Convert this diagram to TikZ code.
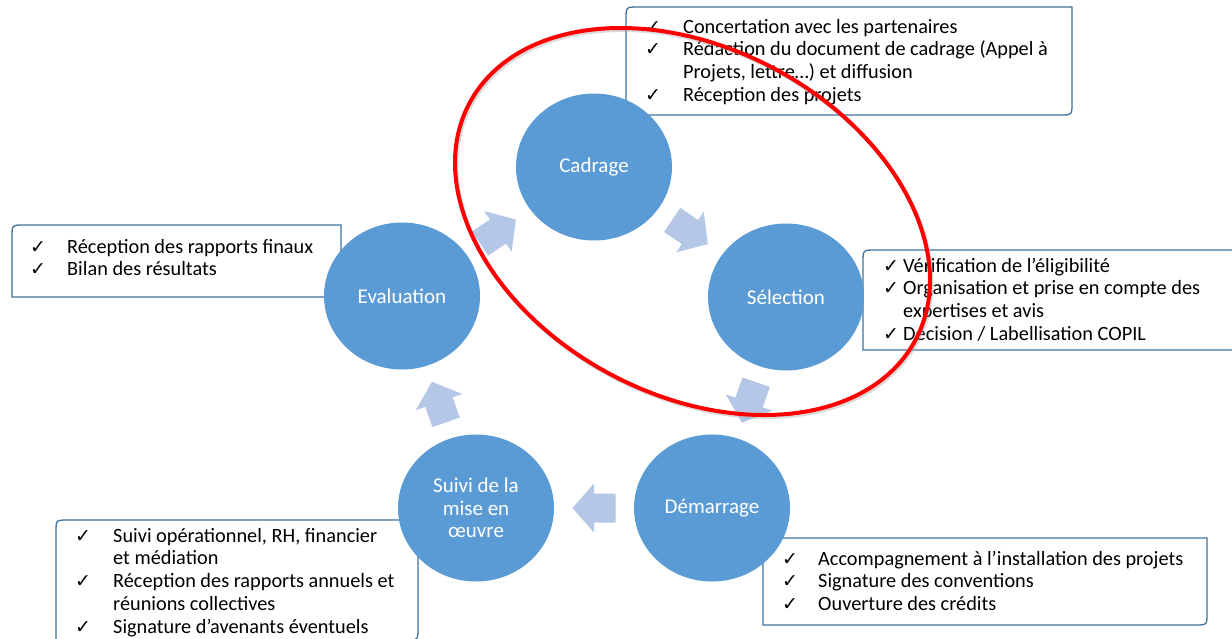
\documentclass[tikz,border=0pt]{standalone}
\usepackage{fontspec}
\setmainfont{Carlito}
\newfontfamily\ckfont{DejaVu Sans}
\usetikzlibrary{calc,shapes.geometric}
\definecolor{circfill}{HTML}{5B9BD5}
\definecolor{arrfill}{HTML}{B4C7E7}
\definecolor{boxline}{HTML}{41719C}
\newcommand{\ck}{{\ckfont\fontsize{19}{19}\selectfont ✓}}
\tikzset{
  boxst/.style={draw=boxline, line width=1.3pt, fill=white},
  listtext/.style={inner sep=0pt, anchor=base west, font=\fontsize{20.3}{22.8}\selectfont},
  circ/.style={ellipse, fill=circfill, minimum width=156pt, minimum height=147pt, inner sep=0pt,
               text=white, align=center, font=\fontsize{21}{22.5}\selectfont},
  pics/blockarrow/.style={code={\fill[arrfill] (-21.5,-14.5) -- (0,-14.5) -- (0,-24.5) -- (21.5,0)
        -- (0,24.5) -- (0,14.5) -- (-21.5,14.5) -- cycle;}}
}
\begin{document}
\begin{tikzpicture}[x=1pt,y=-1pt]
\useasboundingbox[fill=white] (0,0) rectangle (1232,638);
% boxes
\draw[boxst] (626,115) -- (626,19) .. controls (626,7) .. (638,7) -- (1072,7) -- (1072,103) .. controls (1072,115) .. (1060,115) -- cycle;
\draw[boxst] (863,350) -- (863,262) .. controls (863,250) .. (875,250) -- (1240,250) -- (1240,350) -- cycle;
\draw[boxst] (12,297) -- (12,237) .. controls (12,225) .. (24,225) -- (341,225) -- (341,297) -- cycle;
\draw[boxst] (56,650) -- (56,532) .. controls (56,520) .. (68,520) -- (418,520) -- (418,628) .. controls (418,640) .. (406,640) -- (56,640);
\draw[boxst] (763,625) -- (763,550) .. controls (763,538) .. (775,538) -- (1207,538) -- (1207,613) .. controls (1207,625) .. (1195,625) -- cycle;
% box texts
\node[listtext] (tcad) at (645,33) {\begin{tabular}[t]{@{}p{38pt}@{}l@{}}
\ck & Concertation avec les partenaires\\
\ck & Rédaction du document de cadrage (Appel à\\
    & Projets, lettre…) et diffusion\\
\ck & Réception des projets\end{tabular}};
\node[listtext] (tsel) at (883,272) {\begin{tabular}[t]{@{}p{20pt}@{}l@{}}
\ck & Vérification de l’éligibilité\\
\ck & Organisation et prise en compte des\\
    & expertises et avis\\
\ck & Décision / Labellisation COPIL\end{tabular}};
\node[listtext] (teva) at (30,253) {\begin{tabular}[t]{@{}p{37pt}@{}l@{}}
\ck & Réception des rapports finaux\\
\ck & Bilan des résultats\end{tabular}};
\node[listtext] (tsui) at (75,542) {\begin{tabular}[t]{@{}p{38pt}@{}l@{}}
\ck & Suivi opérationnel, RH, financier\\
    & et médiation\\
\ck & Réception des rapports annuels et\\
    & réunions collectives\\
\ck & Signature d’avenants éventuels\end{tabular}};
\node[listtext] (tdem) at (782,565) {\begin{tabular}[t]{@{}p{36pt}@{}l@{}}
\ck & Accompagnement à l’installation des projets\\
\ck & Signature des conventions\\
\ck & Ouverture des crédits\end{tabular}};
% circles
\node[circ] (cad) at (594,167) {Cadrage};
\node[circ] (sel) at (786,297) {Sélection};
\node[circ] (dem) at (712,508) {Démarrage};
\node[circ] (sui) at (476,508) {Suivi de la\\mise en\\œuvre};
\node[circ] (eva) at (402,296) {Evaluation};
% arrows
\foreach \a/\b in {eva/cad, cad/sel, sel/dem, dem/sui, sui/eva}{
  \path let \p1=($(\b)-(\a)$), \n1={atan2(\y1,\x1)} in
    pic[rotate=\n1] at ($(\a)!0.5!(\b)$) {blockarrow};
}
% red ellipse
\draw[black!35, opacity=0.4, line width=4pt, rotate around={-27.9:(694,223.5)}] (694,223.5) ellipse [x radius=252.5, y radius=173.4];
\draw[red, line width=4pt, rotate around={-27.9:(692.5,221.5)}] (692.5,221.5) ellipse [x radius=252.5, y radius=173.4];
\end{tikzpicture}
\end{document}
